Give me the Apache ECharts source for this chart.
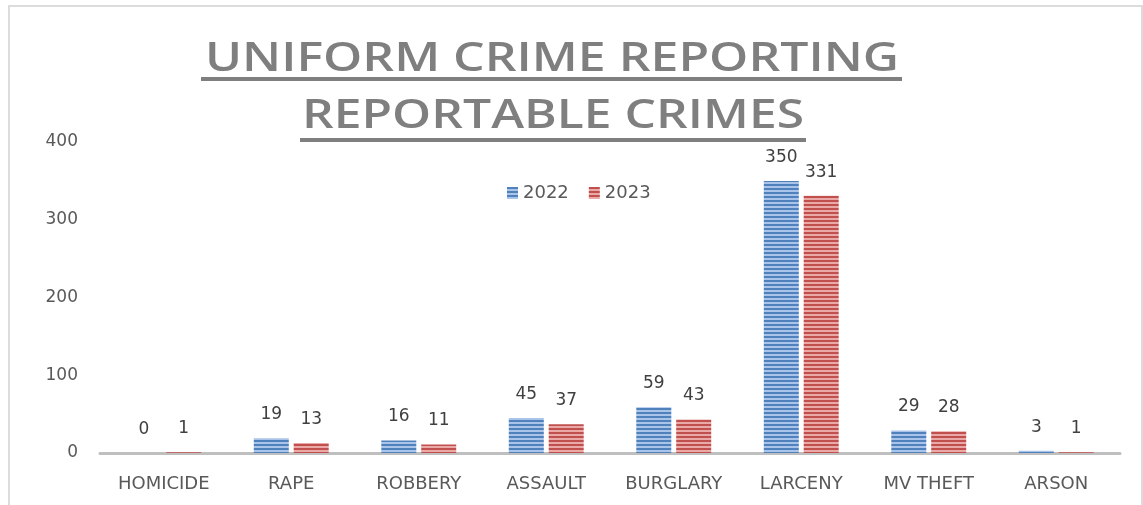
<!DOCTYPE html>
<html>
<head>
<meta charset="utf-8">
<script src="https://cdn.jsdelivr.net/npm/echarts@6/dist/echarts.min.js"></script>
<style>html,body{margin:0;padding:0;background:#fff}#c{width:1143px;height:505px}</style>
</head>
<body>
<div id="c"></div>
<script>
var titleLines = ['UNIFORM CRIME REPORTING', 'REPORTABLE CRIMES'];
var categories = ['HOMICIDE', 'RAPE', 'ROBBERY', 'ASSAULT', 'BURGLARY', 'LARCENY', 'MV THEFT', 'ARSON'];
var seriesNames = ['2022', '2023'];
var values2022 = [0, 19, 16, 45, 59, 350, 29, 3];
var values2023 = [1, 13, 11, 37, 43, 331, 28, 1];

function stripes(dark, light) {
  var cv = document.createElement('canvas');
  cv.width = 8; cv.height = 4;
  var g = cv.getContext('2d');
  g.fillStyle = light; g.fillRect(0, 0, 8, 4);
  g.fillStyle = dark; g.fillRect(0, 0, 8, 2);
  return {image: cv, repeat: 'repeat'};
}

var titleFont = '600 39px "Open Sans", "DejaVu Sans"';
function fitScale(text, target) {
  var g = document.createElement('canvas').getContext('2d');
  g.font = titleFont;
  return target / g.measureText(text).width;
}
function titleText(text, cx, top, width) {
  return {
    type: 'text', x: cx, y: top, originX: 0, originY: 0,
    scaleX: fitScale(text, width), silent: true,
    style: {text: text, font: titleFont, fill: '#7f7f7f', align: 'center', verticalAlign: 'top'}
  };
}

var chart = echarts.init(document.getElementById('c'));
var labelStyle = {show: true, position: 'top', distance: 15, color: '#404040', fontSize: 17, fontFamily: 'DejaVu Sans'};
chart.setOption({
  animation: false,
  backgroundColor: '#fff',
  graphic: [
    {type: 'rect', shape: {x: 9, y: 6, width: 1133, height: 505}, style: {fill: 'none', stroke: '#dcdcdc', lineWidth: 2}, silent: true},
    titleText(titleLines[0], 552, 40, 694),
    titleText(titleLines[1], 553, 97, 502),
    {type: 'line', shape: {x1: 201, y1: 79, x2: 902, y2: 79}, style: {stroke: '#7f7f7f', lineWidth: 4}, silent: true},
    {type: 'line', shape: {x1: 300, y1: 140, x2: 806, y2: 140}, style: {stroke: '#7f7f7f', lineWidth: 4}, silent: true}
  ],
  legend: {
    top: 179, left: 502, itemWidth: 11, itemHeight: 12, itemGap: 20,
    icon: 'rect',
    textStyle: {color: '#595959', fontSize: 18, fontFamily: 'DejaVu Sans'},
    data: seriesNames
  },
  grid: {left: 100, right: 23, top: 142, bottom: 52, containLabel: false},
  xAxis: {
    type: 'category', data: categories,
    axisLine: {lineStyle: {color: '#bfbfbf', width: 3}},
    axisTick: {show: false},
    axisLabel: {color: '#595959', fontSize: 18, fontFamily: 'DejaVu Sans', margin: 22}
  },
  yAxis: {
    type: 'value', min: 0, max: 400, interval: 100,
    axisLine: {show: false}, axisTick: {show: false},
    splitLine: {show: false},
    axisLabel: {color: '#595959', fontSize: 17, fontFamily: 'DejaVu Sans', margin: 22}
  },
  series: [
    {name: seriesNames[0], type: 'bar', data: values2022, barWidth: 35, barGap: '14%',
     itemStyle: {color: stripes('#4f81bd', '#a9c4e8')}, label: labelStyle},
    {name: seriesNames[1], type: 'bar', data: values2023, barWidth: 35,
     itemStyle: {color: stripes('#c0504d', '#eaa9a7')}, label: labelStyle}
  ]
});
</script>
</body>
</html>
